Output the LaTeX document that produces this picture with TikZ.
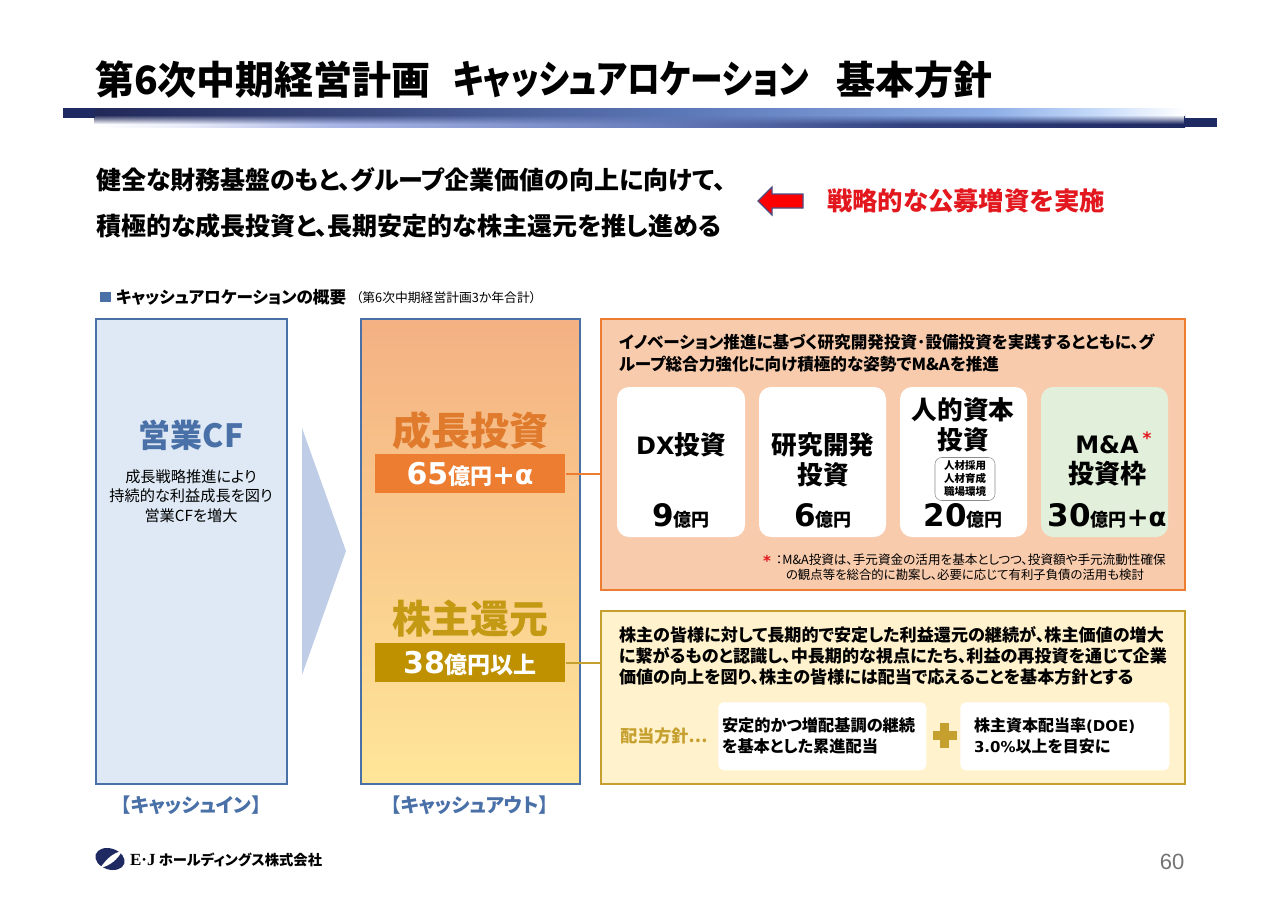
\documentclass[tikz,border=0pt]{standalone}
\usepackage{fontspec}
\usetikzlibrary{fadings}
\setmainfont{Noto Sans CJK JP}[RawFeature=+palt]
\newfontfamily\dv{DejaVu Sans Bold}
\newfontfamily\lib{Liberation Sans}
\newfontfamily\srf{Liberation Serif Bold}
\newcommand\sz[2]{\fontsize{\fpeval{#1*0.75}}{\fpeval{#2*0.75}}\selectfont}
\newcommand\lt[2]{{\dv\sz{#1}{#1}#2}}
\definecolor{navy}{HTML}{1F2A62}
\definecolor{blueline}{HTML}{4A70A8}
\definecolor{bluefill}{HTML}{DEE9F5}
\definecolor{arrowblue}{HTML}{BFCEE6}
\definecolor{orgline}{HTML}{ED7D31}
\definecolor{orgtext}{HTML}{E07A2C}
\definecolor{orgfill}{HTML}{F8CBAD}
\definecolor{goldd}{HTML}{BF9000}
\definecolor{goldl}{HTML}{C6A02E}
\definecolor{goldt}{HTML}{C49A14}
\definecolor{yelfill}{HTML}{FFF2CC}
\definecolor{midtop}{HTML}{F4B183}
\definecolor{midbot}{HTML}{FFE699}
\definecolor{grn}{HTML}{E2EFDA}
\definecolor{redd}{HTML}{E2181E}
\definecolor{arrowred}{HTML}{FF0000}
\pgfdeclarehorizontalshading{topbar}{100bp}{
  rgb(0bp)=(0.13,0.16,0.35); rgb(25bp)=(0.13,0.16,0.35);
  rgb(37bp)=(0.23,0.29,0.50); rgb(52bp)=(0.36,0.47,0.72);
  rgb(66bp)=(0.55,0.68,0.90); rgb(71bp)=(0.78,0.86,0.98);
  rgb(75bp)=(1,1,1); rgb(100bp)=(1,1,1)}
\pgfdeclarehorizontalshading{lowbar}{100bp}{
  rgb(0bp)=(1,1,1); rgb(25bp)=(1,1,1);
  rgb(29bp)=(0.92,0.93,0.98); rgb(36bp)=(0.66,0.71,0.90);
  rgb(50bp)=(0.42,0.50,0.74); rgb(62bp)=(0.20,0.26,0.50);
  rgb(75bp)=(0.12,0.16,0.38); rgb(100bp)=(0.12,0.16,0.38)}
\tikzfading[name=topfade,top color=transparent!0,bottom color=transparent!100]
\tikzset{
  txt/.style={inner sep=0pt,outer sep=0pt,text=black},
  bb/.style={txt,font=\bfseries\sz{#1}{#1}},
  ml/.style 2 args={txt,font=\bfseries\sz{#1}{#2},align=left},
  mc/.style 2 args={txt,font=\bfseries\sz{#1}{#2},align=center},
  card/.style={rounded corners=9pt},
  link/.style={line width=1.5pt},
}
\begin{document}
\begin{tikzpicture}[x=0.75pt,y=-0.75pt]
\useasboundingbox (0,0) rectangle (1280,904);
% title
\node[bb=39,anchor=west] (title1) at (95,80) {第6次中期経営計画};
\node[bb=39,anchor=west] (title2) at (453,80) {\scalebox{0.84}[1]{キャッシュアロケーション}};
\node[bb=39,anchor=west] (title3) at (836,80) {基本方針};
\fill[navy] (63,108) rectangle (95,118);
\fill[navy] (1185,118) rectangle (1217,127);
\shade[shading=lowbar] (95,114) rectangle (1185,127);
\shade[shading=topbar] (95,108) rectangle (1185,115);
\shade[shading=topbar,path fading=topfade,fit fading=true] (95,115) rectangle (1185,124);
% lead
\node[ml={25}{46},anchor=west] (lead) at (96,203) {健全な財務基盤のもと、グループ企業価値の向上に向けて、\\積極的な成長投資と、長期安定的な株主還元を推し進める};
\fill[arrowred,draw=black!70!blue!70,line width=.9pt] (758,201) -- (772,187) -- (772,194) -- (803,194) -- (803,208) -- (772,208) -- (772,215) -- cycle;
\node[bb=25.4,text=redd] (pub) at (966,201) {戦略的な公募増資を実施};
% section header
\fill[blueline] (100,292) rectangle (111,302);
\node[bb=16.6,anchor=west] (sec) at (116,297) {キャッシュアロケーションの概要};
\node[txt,font=\sz{12.8}{12.8},anchor=west] (secs) at (356,298) {（第6次中期経営計画3か年合計）};
% left box
\node[draw=blueline,fill=bluefill,line width=1.5pt,minimum width=191*0.75pt,minimum height=465*0.75pt,inner sep=0pt,anchor=north west] (inbox) at (95,318) {};
\node[bb=32,text=blueline] (cf) at (191,435) {営業CF};
\node[txt,font=\sz{15.2}{19.5},align=center] (cfd) at (191,496) {成長戦略推進により\\持続的な利益成長を図り\\営業CFを増大};
\fill[arrowblue] (302,428) -- (346,551) -- (302,675) -- cycle;
% middle box
\node[draw=blueline,line width=1.5pt,minimum width=219*0.75pt,minimum height=465*0.75pt,inner sep=0pt,anchor=north west,top color=midtop,bottom color=midbot] (outbox) at (359.5,318) {};
\node[bb=39,text=orgtext] (gr) at (470,431) {成長投資};
\node[fill=orgline,minimum width=190*0.75pt,minimum height=39*0.75pt,inner sep=0pt,anchor=north west] (grb) at (375,454) {};
\node[txt,text=white,font=\bfseries\sz{22}{22}] (grt) at (470,474) {\lt{30}{65}億円\lt{27}{+α}};
\node[bb=39,text=goldt] (sh) at (470,619) {株主還元};
\node[fill=goldd,minimum width=190*0.75pt,minimum height=39*0.75pt,inner sep=0pt,anchor=north west] (shb) at (375,643) {};
\node[txt,text=white,font=\bfseries\sz{23}{23}] (sht) at (470,663) {\lt{30}{38}億円以上};
\node[bb=19.5,text=blueline] (inl) at (191,805) {【キャッシュイン】};
\node[bb=19.5,text=blueline] (outl) at (470,805) {【キャッシュアウト】};
% orange panel
\node[draw=orgline,fill=orgfill,line width=1.5pt,minimum width=584*0.75pt,minimum height=271*0.75pt,inner sep=0pt,anchor=north west] (p1) at (600,318) {};
\draw[link,orgline] (grb.east) -- (grb.east -| p1.west);
\node[ml={16.6}{22},anchor=west] (p1t) at (619,353) {イノベーション推進に基づく研究開発投資･設備投資を実践するとともに、グ\\ループ総合力強化に向け積極的な姿勢でM\&Aを推進};
\foreach \n/\xa/\xb/\c in {c1/617/745/white,c2/759/886/white,c3/900/1027/white,c4/1041/1168/grn}{
  \fill[\c,card] (\xa,387) rectangle (\xb,537);
}
\node[mc={25.6}{30}] (t1) at (681,445) {\lt{24}{DX}投資};
\node[txt,font=\bfseries\sz{18}{18}] (a1) at (681,516) {\lt{31}{9}億円};
\node[mc={25.6}{30}] (t2) at (823,460) {研究開発\\投資};
\node[txt,font=\bfseries\sz{18}{18}] (a2) at (823,516) {\lt{31}{6}億円};
\node[mc={25.6}{30}] (t3) at (963,425) {人的資本\\投資};
\node[draw=black!45,fill=white,rounded corners=5pt,line width=.4pt,minimum width=60*0.75pt,minimum height=43*0.75pt,inner sep=0pt] (sb) at (965,479) {};
\node[mc={10.5}{13}] (st) at (965,479) {人材採用\\人材育成\\職場環境};
\node[txt,font=\bfseries\sz{18}{18}] (a3) at (963,516) {\lt{31}{20}億円};
\node[txt] (t4a) at (1107,445) {\lt{24}{M\&A}};
\node[bb=26] (t4b) at (1107,474) {投資枠};
\node[txt,text=redd,font=\dv\sz{17}{17}] (star) at (1147,438) {*};
\node[txt,font=\bfseries\sz{18}{18}] (a4) at (1107,516) {\lt{31}{30}億円\lt{26}{+α}};
\node[txt,text=redd,font=\dv\sz{15}{15}] (fstar) at (767,561) {*};
\node[txt,font=\sz{12.6}{15},anchor=west] (f1) at (776,560) {：M\&A投資は、手元資金の活用を基本としつつ、投資額や手元流動性確保};
\node[txt,font=\sz{12.4}{15},anchor=west] (f2) at (786,575) {の観点等を総合的に勘案し、必要に応じて有利子負債の活用も検討};
% yellow panel
\node[draw=goldl,fill=yelfill,line width=1.5pt,minimum width=584*0.75pt,minimum height=173.5*0.75pt,inner sep=0pt,anchor=north west] (p2) at (600,609.5) {};
\draw[link,goldl] (shb.east) -- (shb.east -| p2.west);
\node[ml={17.1}{21},anchor=west] (p2t) at (619,656) {株主の皆様に対して長期的で安定した利益還元の継続が、株主価値の増大\\に繋がるものと認識し、中長期的な視点にたち、利益の再投資を通じて企業\\価値の向上を図り、株主の皆様には配当で応えることを基本方針とする};
\node[bb=17,text=goldl] (dv) at (664,736) {配当方針…};
\node[fill=white,rounded corners=4pt,minimum width=208*0.75pt,minimum height=68*0.75pt,inner sep=0pt,anchor=north west] (d1) at (718,702) {};
\node[fill=white,rounded corners=4pt,minimum width=209*0.75pt,minimum height=68*0.75pt,inner sep=0pt,anchor=north west] (d2) at (960,702) {};
\node[ml={16.2}{21},anchor=west] (d1t) at (722,736) {安定的かつ増配基調の継続\\を基本とした累進配当};
\node[ml={16}{21},anchor=west] (d2t) at (974,736) {株主資本配当率\lt{15}{(DOE)}\\\lt{15}{3.0\%}以上を目安に};
\fill[goldl] (940,723) rectangle (949,748);
\fill[goldl] (933,731) rectangle (957,740);
% footer
\fill[navy,rotate around={-18:(110,859)}] (110,859) ellipse [x radius=15,y radius=10.5];
\fill[white] (100,868) .. controls (106,860) and (112,853) .. (122,851) .. controls (118,859) and (110,866) .. (100,868) -- cycle;
\node[bb=14.3,anchor=west] (logo) at (130,860) {{\srf\sz{17}{17}E{\fontspec{Liberation Serif Bold}·}J} ホールディングス株式会社};
\node[txt,text=black!55,font=\lib\sz{22}{22}] (pg) at (1172,862) {60};
\end{tikzpicture}
\end{document}
